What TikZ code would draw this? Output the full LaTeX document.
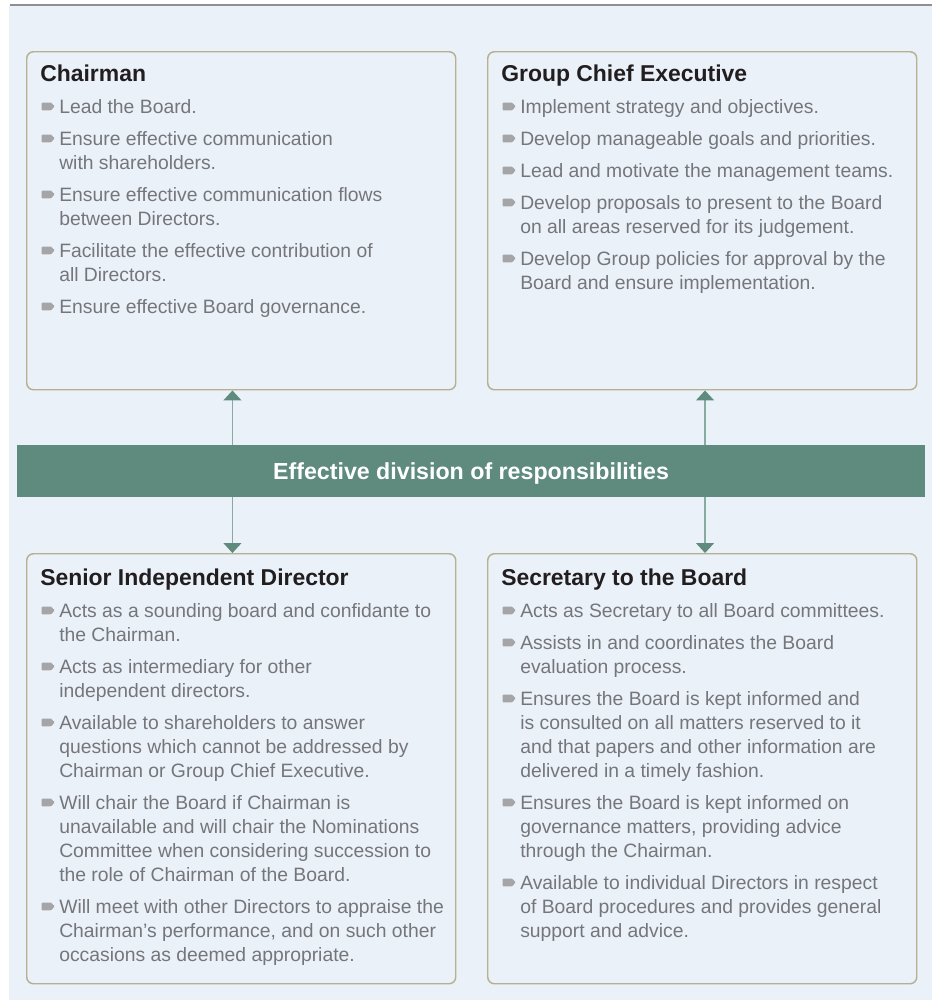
\documentclass[tikz,border=0pt]{standalone}
\usepackage{fontspec}
\setmainfont{Liberation Sans}
\usetikzlibrary{arrows.meta}
\definecolor{bgc}{HTML}{EAF1F9}
\definecolor{boxc}{HTML}{B5B191}
\definecolor{txtc}{HTML}{75767A}
\definecolor{headc}{HTML}{221E1F}
\definecolor{banc}{HTML}{5E8B7E}
\definecolor{arrl}{HTML}{86ABA0}
\definecolor{bulc}{HTML}{A5A4A7}
\definecolor{rulec}{HTML}{8E8E96}
\newcommand\bulmark{\llap{\tikz[baseline=0pt,x=0.75pt,y=0.75pt]\fill[bulc,rounded corners=0.6pt] (0,2.7) -- (9.3,2.7) -- (13,6.6) -- (9.3,10.5) -- (0,10.5) -- cycle;\hspace{3.4pt}}}
\newcommand\itm{\par\noindent\bulmark}
\newcommand\itemlist[1]{\parbox[t]{330pt}{\fontsize{14.5pt}{18pt}\selectfont\raggedright\setlength{\leftskip}{14.25pt}\setlength{\parskip}{6pt}\setlength{\parindent}{0pt}#1}}
\tikzset{
  boxst/.style={draw=boxc, line width=1.1pt, rounded corners=5pt, minimum width=321.75pt, minimum height=253.5pt, anchor=north west, inner sep=0pt},
  boxstb/.style={boxst, minimum height=322.5pt},
  headst/.style={anchor=base west, inner sep=0pt, text=headc, font=\bfseries\fontsize{17.2pt}{20pt}\selectfont},
  listst/.style={anchor=base west, inner sep=0pt, text=txtc},
  arrst/.style={draw=arrl, line width=1pt, -{Triangle[width=13.5pt,length=7.5pt,color=banc]}},
}
\begin{document}
\begin{tikzpicture}[x=0.75pt,y=-0.75pt]
\useasboundingbox (0,0) rectangle (935,1000);
\fill[white] (0,0) rectangle (935,1000);
\fill[bgc] (9,5) rectangle (932,1000);
\draw[rulec, line width=1.5pt] (10,5) -- (932,5);

% boxes
\node[boxst] (chair) at (26,51) {};
\node[boxst] (gce) at (487,51) {};
\node[boxstb] (sid) at (26,553) {};
\node[boxstb] (sec) at (487,553) {};

% banner
\node[fill=banc, minimum width=681pt, minimum height=39pt, inner sep=0pt, text height=12.4pt, text depth=0pt, text=white, font=\bfseries\fontsize{17.4pt}{20pt}\selectfont] (banner) at (471,471) {Effective division of responsibilities};

% arrows
\coordinate (al) at ([xshift=-6.6pt]chair.south);
\coordinate (ar) at ([xshift=2.1pt]gce.south);
\coordinate (bl) at ([xshift=-6.6pt]sid.north);
\coordinate (br) at ([xshift=2.1pt]sec.north);
\draw[arrst] (al |- banner.north) -- (al);
\draw[arrst] (ar |- banner.north) -- (ar);
\draw[arrst] (bl |- banner.south) -- (bl);
\draw[arrst] (br |- banner.south) -- (br);

% Chairman
\node[headst] (chairh) at (40,81) {Chairman};
\node[listst] (chairl) at (40,113) {\itemlist{%
\itm Lead the Board.
\itm Ensure effective communication\\ with shareholders.
\itm Ensure effective communication flows\\ between Directors.
\itm Facilitate the effective contribution of\\ all Directors.
\itm Ensure effective Board governance.}};

% Group Chief Executive
\node[headst] (gceh) at (501,81) {Group Chief Executive};
\node[listst] (gcel) at (501,113) {\itemlist{%
\itm Implement strategy and objectives.
\itm Develop manageable goals and priorities.
\itm Lead and motivate the management teams.
\itm Develop proposals to present to the Board\\ on all areas reserved for its judgement.
\itm Develop Group policies for approval by the\\ Board and ensure implementation.}};

% Senior Independent Director
\node[headst] (sidh) at (40,585) {Senior Independent Director};
\node[listst] (sidl) at (40,617) {\itemlist{%
\itm Acts as a sounding board and confidante to\\ the Chairman.
\itm Acts as intermediary for other\\ independent directors.
\itm Available to shareholders to answer\\ questions which cannot be addressed by\\ Chairman or Group Chief Executive.
\itm Will chair the Board if Chairman is\\ unavailable and will chair the Nominations\\ Committee when considering succession to\\ the role of Chairman of the Board.
\itm Will meet with other Directors to appraise the\\ Chairman’s performance, and on such other\\ occasions as deemed appropriate.}};

% Secretary to the Board
\node[headst] (sech) at (501,585) {Secretary to the Board};
\node[listst] (secl) at (501,617) {\itemlist{%
\itm Acts as Secretary to all Board committees.
\itm Assists in and coordinates the Board\\ evaluation process.
\itm Ensures the Board is kept informed and\\ is consulted on all matters reserved to it\\ and that papers and other information are\\ delivered in a timely fashion.
\itm Ensures the Board is kept informed on\\ governance matters, providing advice\\ through the Chairman.
\itm Available to individual Directors in respect\\ of Board procedures and provides general\\ support and advice.}};
\end{tikzpicture}
\end{document}
